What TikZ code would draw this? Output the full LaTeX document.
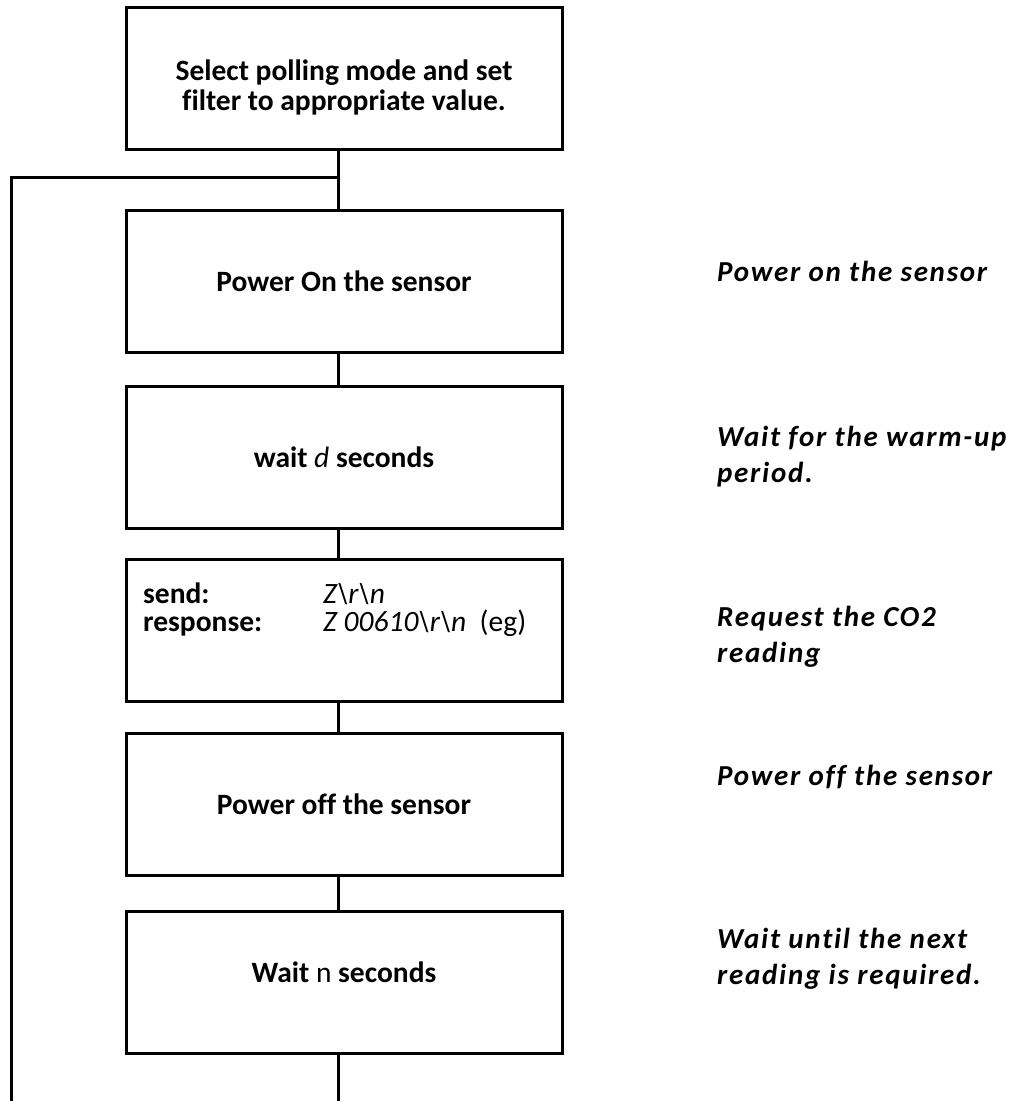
\documentclass[tikz,border=0pt]{standalone}
\usepackage{fontspec}
\setmainfont[Ligatures=NoCommon]{Carlito}
\newfontfamily\notefont[LetterSpace=6,Ligatures=NoCommon]{Carlito}
\usetikzlibrary{positioning}
\tikzset{
  stepbox/.style={draw=black, line width=3pt, minimum width=436pt, minimum height=142pt, align=center, font=\fontsize{29.5}{30}\selectfont\bfseries},
  note/.style={anchor=west, align=left, inner sep=0pt, font=\notefont\fontsize{29}{36}\selectfont\bfseries\itshape},
  link/.style={black, line width=3pt},
}
\begin{document}
\begin{tikzpicture}[x=1pt,y=-1pt]
\useasboundingbox (0,0) rectangle (1011,1101);
% flow boxes
\node[stepbox] (setup) at (344,78) {\rule{0pt}{40pt}Select polling mode and set\\filter to appropriate value.};
\node[stepbox] (poweron) at (344,281.5) {Power On the sensor};
\node[stepbox] (warmup) at (344,457.5) {wait \textit{\mdseries d} seconds};
\node[stepbox] (request) at (344,630) {};
\node[stepbox] (poweroff) at (344,804) {Power off the sensor};
\node[stepbox] (pause) at (344,982) {\rule[-20pt]{0pt}{0pt}Wait {\mdseries n} seconds};
\node[anchor=north west, inner sep=0pt, font=\fontsize{29.5}{26}\selectfont] (cmd) at (143,583)
  {\begin{tabular}{@{}p{180pt}@{}l@{}}
   \textbf{send:} & \textit{Z\textbackslash r\textbackslash n}\\[-2pt]
   \textbf{response:} & \textit{Z 00610\textbackslash r\textbackslash n}\ \ (eg)
   \end{tabular}};
% notes on the right
\node[note] (noteon) at (717,271) {Power on the sensor};
\node[note] (notewarm) at (717,457) {Wait for the warm-up\\period.};
\node[note] (noteread) at (717,637) {Request the CO2\\reading};
\node[note] (noteoff) at (717,777) {Power off the sensor};
\node[note] (notenext) at (717,959) {Wait until the next\\reading is required.};
% connectors
\coordinate (spine) at (338,0);
\coordinate (join) at (338,177);
\coordinate (back) at (11,177);
\coordinate (backend) at (11,1101);
\coordinate (tailend) at (338,1101);
\draw[link] (setup.south -| spine) -- (poweron.north -| spine);
\draw[link] (poweron.south -| spine) -- (warmup.north -| spine);
\draw[link] (warmup.south -| spine) -- (request.north -| spine);
\draw[link] (request.south -| spine) -- (poweroff.north -| spine);
\draw[link] (poweroff.south -| spine) -- (pause.north -| spine);
\draw[link] (pause.south -| spine) -- (tailend);
\draw[link] (join) -- (back) -- (backend);
\end{tikzpicture}
\end{document}
